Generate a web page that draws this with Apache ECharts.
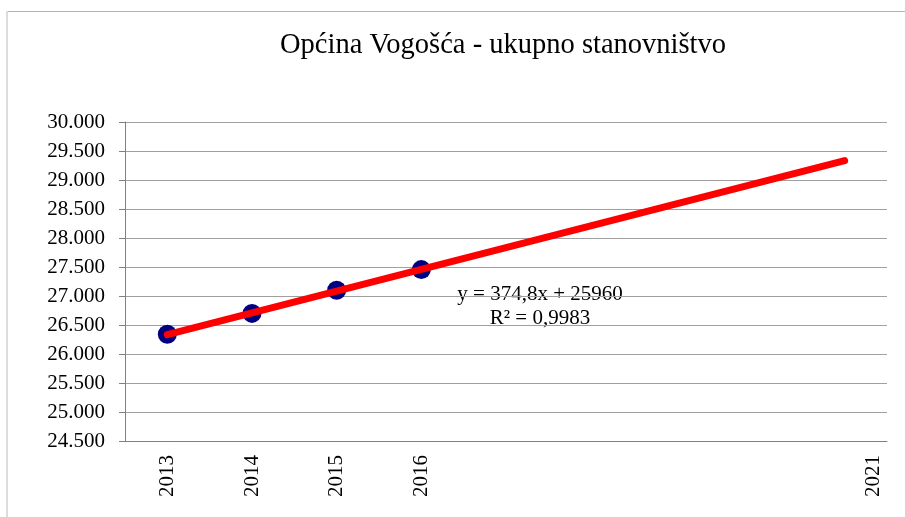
<!DOCTYPE html>
<html>
<head>
<meta charset="utf-8">
<script src="https://cdn.jsdelivr.net/npm/echarts@6/dist/echarts.min.js"></script>
<style>
  html, body { margin: 0; padding: 0; background: #fff; }
  #chart { width: 905px; height: 517px; }
</style>
</head>
<body>
<div id="chart"></div>
<script>
  const years = ["2013", "2014", "2015", "2016", "", "", "", "", "2021"];
  const population = [26340, 26700, 27100, 27455, null, null, null, null, null];
  const trend = [26335, null, null, null, null, null, null, null, 29333];
  const equationLines = ["y = 374,8x + 25960", "R² = 0,9983"];

  const serif = "'Liberation Serif', 'Times New Roman', serif";

  function thousands(v) {
    const k = Math.floor(v / 1000);
    const r = String(v % 1000).padStart(3, "0");
    return k + "." + r;
  }

  const chart = echarts.init(document.getElementById("chart"));
  chart.setOption({
    animation: false,
    backgroundColor: "#fff",
    title: {
      text: "Općina Vogošća - ukupno stanovništvo",
      left: 498,
      top: 26,
      textAlign: "center",
      textStyle: { fontFamily: serif, fontSize: 28.5, fontWeight: "normal", color: "#000" }
    },
    grid: { left: 125, right: 18, top: 122, bottom: 76 },
    xAxis: {
      type: "category",
      data: years,
      axisLine: { lineStyle: { color: "#808080", width: 1 } },
      axisTick: { length: 6, lineStyle: { color: "#808080" } },
      axisLabel: {
        interval: 0,
        rotate: 90,
        margin: 14,
        fontFamily: serif,
        fontSize: 21,
        color: "#000",
        formatter: function (v) {
          return v === "2021" ? "{last|" + v + "}" : v;
        },
        rich: {
          last: { fontFamily: serif, fontSize: 21, color: "#000", padding: [58, 0, 0, 0] }
        }
      }
    },
    yAxis: {
      type: "value",
      min: 24500,
      max: 30000,
      interval: 500,
      axisLine: { show: true, lineStyle: { color: "#808080", width: 1 } },
      axisTick: { show: true, length: 6, lineStyle: { color: "#808080" } },
      splitLine: { lineStyle: { color: "#a0a0a0", width: 1 } },
      axisLabel: {
        margin: 20,
        fontFamily: serif,
        fontSize: 21,
        color: "#000",
        formatter: thousands
      }
    },
    graphic: [
      { type: "line", shape: { x1: 7, y1: 11.5, x2: 905, y2: 11.5 }, style: { stroke: "#b4b4b4", lineWidth: 1 } },
      { type: "line", shape: { x1: 7, y1: 11, x2: 7, y2: 517 }, style: { stroke: "#dcdcdc", lineWidth: 2 } },
      {
        type: "text",
        x: 540,
        y: 282,
        style: {
          text: equationLines.join("\n"),
          font: "21px " + serif,
          fill: "#000",
          align: "center",
          verticalAlign: "top",
          lineHeight: 24
        }
      }
    ],
    series: [
      {
        name: "Stanovništvo",
        type: "line",
        data: population,
        symbol: "circle",
        symbolSize: 19,
        itemStyle: { color: "#000080" },
        lineStyle: { opacity: 0 },
        z: 2
      },
      {
        name: "Trend",
        type: "line",
        data: trend,
        connectNulls: true,
        symbol: "none",
        lineStyle: { color: "#ff0000", width: 7, cap: "round" },
        z: 3
      }
    ]
  });
</script>
</body>
</html>
